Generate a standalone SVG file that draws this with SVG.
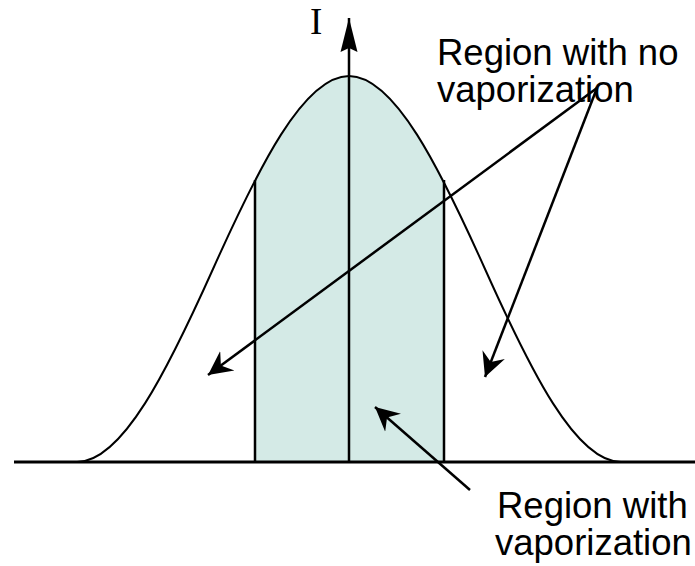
<svg xmlns="http://www.w3.org/2000/svg" width="695" height="566" viewBox="0 0 695 566">
  <style>
    .curve { fill: none; stroke: #000; stroke-width: 2; }
    .edge { stroke: #000; stroke-width: 2.5; fill: none; }
    .conn { stroke: #000; stroke-width: 2.5; fill: none; }
    .lbl { font-family: "Liberation Sans", Arial, sans-serif; font-size: 36.5px; fill: #000; }
    .axislbl { font-family: "Liberation Serif", "Times New Roman", serif; font-size: 37px; fill: #000; }
  </style>
  <defs>
    <marker id="stealth" viewBox="-24 -13 26 26" refX="0" refY="0" markerWidth="26" markerHeight="26" markerUnits="userSpaceOnUse" orient="auto">
      <path d="M0,0 L-24,-12 L-16,0 L-24,12 Z" fill="#000"/>
    </marker>
    <marker id="axisHead" viewBox="-36 -10 38 20" refX="0" refY="0" markerWidth="38" markerHeight="20" markerUnits="userSpaceOnUse" orient="auto">
      <path d="M0,0 L-34,-8.5 L-30,0 L-34,8.5 Z" fill="#000"/>
    </marker>
    <clipPath id="band">
      <rect x="255" y="0" width="189" height="462"/>
    </clipPath>
  </defs>

  <g id="vapor-region">
    <path clip-path="url(#band)" fill="#d4eae6" d="M77,462 C122.33,462 167.67,370.05 213,269 C258.33,167.95 303.67,76 349,76 C394.33,76 439.67,167.95 485,269 C530.33,370.05 575.67,462 621,462 Z"/>
    <line class="edge" x1="255" y1="462" x2="255" y2="180"/>
    <line class="edge" x1="444" y1="462" x2="444" y2="180"/>
  </g>

  <g id="gaussian-curve">
    <path class="curve" d="M77,462 C122.33,462 167.67,370.05 213,269 C258.33,167.95 303.67,76 349,76 C394.33,76 439.67,167.95 485,269 C530.33,370.05 575.67,462 621,462"/>
  </g>

  <g id="axes">
    <line x1="14" y1="462" x2="695" y2="462" stroke="#000" stroke-width="3"/>
    <line x1="349" y1="462" x2="349" y2="18" stroke="#000" stroke-width="2.5" marker-end="url(#axisHead)"/>
    <text class="axislbl" x="310" y="34">I</text>
  </g>

  <g id="label-no-vapor">
    <text class="lbl" x="437" y="65">Region with no</text>
    <text class="lbl" x="437" y="102">vaporization</text>
  </g>

  <g id="label-vapor">
    <text class="lbl" x="497" y="518">Region with</text>
    <text class="lbl" x="495" y="555">vaporization</text>
  </g>

  <g id="connectors">
    <line class="conn" x1="597" y1="88" x2="208" y2="375" marker-end="url(#stealth)"/>
    <line class="conn" x1="597" y1="88" x2="485" y2="377" marker-end="url(#stealth)"/>
    <line class="conn" x1="470" y1="490" x2="375" y2="407" marker-end="url(#stealth)"/>
  </g>
</svg>
